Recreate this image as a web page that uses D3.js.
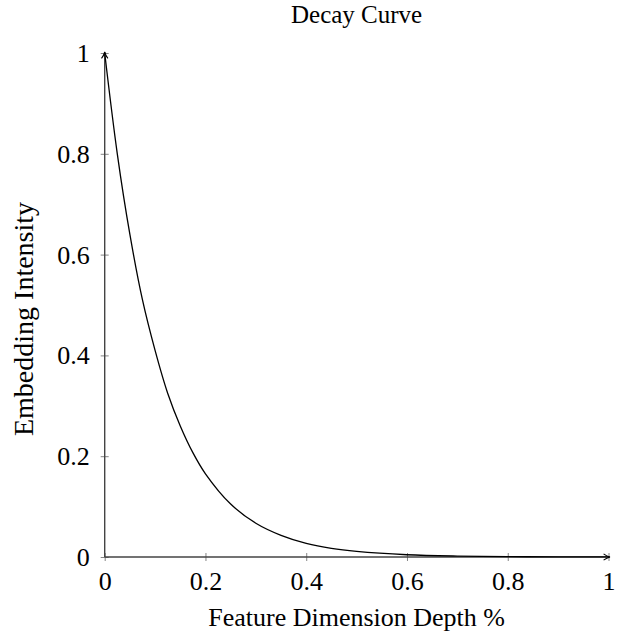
<!DOCTYPE html>
<html>
<head>
<meta charset="utf-8">
<script src="https://cdn.jsdelivr.net/npm/d3@7"></script>
<style>
  body { margin: 0; background: #fff; }
  text { font-family: "Liberation Serif", "DejaVu Serif", serif; fill: #000; }
</style>
</head>
<body>
<svg id="chart"></svg>
<script>
// values
const depth = [0, 0.025, 0.05, 0.075, 0.1, 0.125, 0.15, 0.175, 0.2, 0.25, 0.3, 0.35, 0.4, 0.45, 0.5, 0.6, 0.7, 0.8, 0.9, 1.0];
const intensity = [1, 0.80, 0.64, 0.51, 0.41, 0.325, 0.26, 0.207, 0.165, 0.105, 0.067, 0.043, 0.027, 0.017, 0.011, 0.0045, 0.0018, 0.0007, 0.0003, 0.0001];
const xTicks = [0, 0.2, 0.4, 0.6, 0.8, 1];
const yTicks = [0, 0.2, 0.4, 0.6, 0.8, 1];

const size = { width: 624, height: 635 };
const margin = { left: 104.7, right: 15.5, top: 53, bottom: 78 };

const svg = d3.select('#chart').attr('width', size.width).attr('height', size.height);

const x = d3.scaleLinear().domain([0, 1]).range([margin.left, size.width - margin.right]);
const y = d3.scaleLinear().domain([0, 1]).range([size.height - margin.bottom, margin.top]);

const defs = svg.append('defs');
defs.append('marker')
  .attr('id', 'arrow')
  .attr('viewBox', '0 0 10 10')
  .attr('refX', 9).attr('refY', 5)
  .attr('markerWidth', 8).attr('markerHeight', 8)
  .attr('markerUnits', 'userSpaceOnUse')
  .attr('orient', 'auto')
  .append('path')
  .attr('d', 'M1,1 Q5,4 9,5 Q5,6 1,9')
  .attr('fill', 'none')
  .attr('stroke', '#000')
  .attr('stroke-width', 1.3);

// ticks crossing the axes
const xAxis = svg.append('g')
  .attr('transform', `translate(0, ${y(0)})`)
  .call(d3.axisBottom(x).tickValues(xTicks).tickSize(0).tickFormat(d3.format('~g')));
xAxis.select('.domain').remove();
xAxis.selectAll('.tick line').remove();
xAxis.selectAll('.tick').append('line')
  .attr('y1', -4).attr('y2', 4)
  .attr('stroke', '#777').attr('stroke-width', 0.9);
xAxis.selectAll('.tick text')
  .attr('y', 33).attr('dy', 0)
  .style('font-size', '26px')
  .style('font-family', '"Liberation Serif", serif');

const yAxis = svg.append('g')
  .attr('transform', `translate(${x(0)}, 0)`)
  .call(d3.axisLeft(y).tickValues(yTicks).tickSize(0).tickFormat(d3.format('~g')));
yAxis.select('.domain').remove();
yAxis.selectAll('.tick line').remove();
yAxis.selectAll('.tick').append('line')
  .attr('x1', -4).attr('x2', 4)
  .attr('stroke', '#777').attr('stroke-width', 0.9);
yAxis.selectAll('.tick text')
  .attr('x', -15).attr('dy', '0.33em')
  .style('font-size', '26px')
  .style('font-family', '"Liberation Serif", serif');

// axis lines with arrows
svg.append('line')
  .attr('x1', x(0)).attr('y1', y(0))
  .attr('x2', x(1) + 1.5).attr('y2', y(0))
  .attr('stroke', '#444').attr('stroke-width', 1.4)
  .attr('marker-end', 'url(#arrow)');
svg.append('line')
  .attr('x1', x(0)).attr('y1', y(0))
  .attr('x2', x(0)).attr('y2', y(1) - 1)
  .attr('stroke', '#444').attr('stroke-width', 1.4)
  .attr('marker-end', 'url(#arrow)');

// curve
const pts = depth.map((d, i) => [d, intensity[i]]);
svg.append('path')
  .datum(pts)
  .attr('fill', 'none')
  .attr('stroke', '#000')
  .attr('stroke-width', 1.3)
  .attr('d', d3.line().x((d) => x(d[0])).y((d) => y(d[1])).curve(d3.curveCatmullRom.alpha(0.5)));

// labels
svg.append('text')
  .attr('x', (x(0) + x(1)) / 2)
  .attr('y', 23)
  .attr('text-anchor', 'middle')
  .style('font-size', '25px')
  .text('Decay Curve');

svg.append('text')
  .attr('x', (x(0) + x(1)) / 2)
  .attr('y', 626)
  .attr('text-anchor', 'middle')
  .style('font-size', '26px')
  .text('Feature Dimension Depth %');

svg.append('text')
  .attr('transform', 'translate(33, 319) rotate(-90)')
  .attr('text-anchor', 'middle')
  .style('font-size', '28px')
  .text('Embedding Intensity');
</script>
</body>
</html>
